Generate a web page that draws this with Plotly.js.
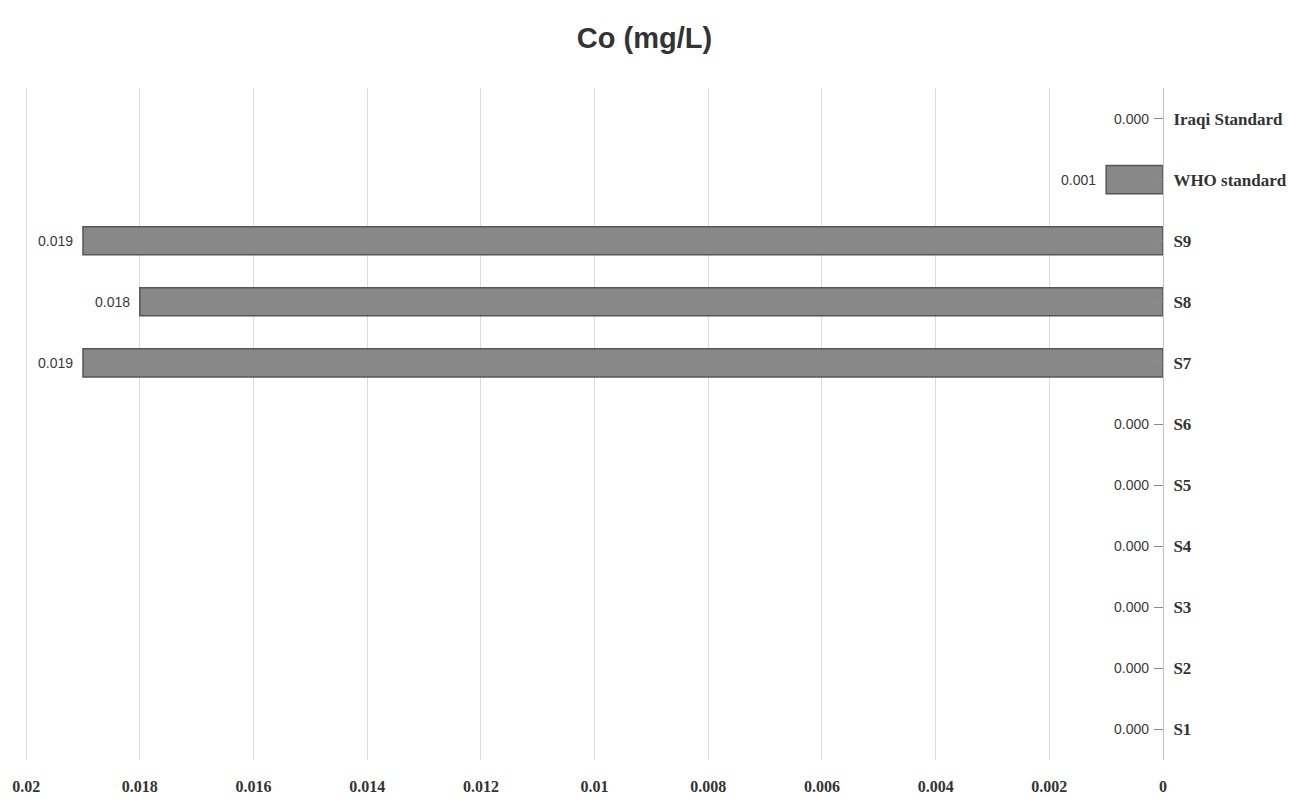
<!DOCTYPE html>
<html>
<head>
<meta charset="utf-8">
<script src="https://cdn.plot.ly/plotly-3.0.1.min.js"></script>
<style>html,body{margin:0;padding:0;background:#fff;}#chart{width:1289px;height:800px;}</style>
</head>
<body>
<div id="chart"></div>
<script>
// Data (bottom to top)
const categories = ["S1", "S2", "S3", "S4", "S5", "S6", "S7", "S8", "S9", "WHO standard", "Iraqi Standard"];
const values = [0.000, 0.000, 0.000, 0.000, 0.000, 0.000, 0.019, 0.018, 0.019, 0.001, 0.000];
const xTickVals = [0, 0.002, 0.004, 0.006, 0.008, 0.01, 0.012, 0.014, 0.016, 0.018, 0.02];
const xTickText = ["0", "0.002", "0.004", "0.006", "0.008", "0.01", "0.012", "0.014", "0.016", "0.018", "0.02"];
const chartTitle = "Co (mg/L)";

const trace = {
  type: "bar",
  orientation: "h",
  x: values,
  y: categories,
  width: 0.46,
  marker: {
    color: "#888888",
    line: { color: "#555555", width: values.map(v => v === 0 ? 0 : 1.5) }
  },
  hoverinfo: "x+y"
};

const annotations = categories.map((c, i) => ({
  x: values[i], y: c, xref: "x", yref: "y",
  text: values[i].toFixed(3),
  showarrow: false, xanchor: "right", yanchor: "middle",
  xshift: values[i] === 0 ? -12 : -8,
  font: { family: "Liberation Sans, Arial, sans-serif", size: 14, color: "#3a3a3a" }
}));

const layout = {
  width: 1289, height: 800,
  paper_bgcolor: "#fff", plot_bgcolor: "#fff",
  margin: { l: 25, r: 126, t: 88, b: 40 },
  title: {
    text: "<b>" + chartTitle + "</b>",
    x: 0.5, xanchor: "center", y: 0.953, yanchor: "middle",
    font: { family: "Liberation Sans Narrow, Arial Narrow, Liberation Sans, sans-serif", size: 29, color: "#333" }
  },
  xaxis: {
    range: [0.02002, 0],
    tickvals: xTickVals, ticktext: xTickText,
    showgrid: true, gridcolor: "#dcdcdc", gridwidth: 1,
    zeroline: false, showline: false,
    ticks: "outside", ticklen: 12, tickcolor: "rgba(0,0,0,0)",
    tickfont: { family: "Liberation Serif, Times New Roman, serif", size: 16, color: "#333", weight: "bold" }
  },
  yaxis: {
    side: "right",
    categoryorder: "array", categoryarray: categories,
    range: [-0.5, categories.length - 0.5],
    showgrid: false, zeroline: false,
    showline: true, linecolor: "#c4c4c4", linewidth: 1,
    ticks: "inside", ticklen: 9, tickcolor: "#8a8a8a", tickwidth: 1,
    ticklabelstandoff: 6,
    tickfont: { family: "Liberation Serif, Times New Roman, serif", size: 17, color: "#333", weight: "bold" }
  },
  showlegend: false,
  annotations: annotations
};

Plotly.newPlot("chart", [trace], layout, { displayModeBar: false, staticPlot: true });
</script>
</body>
</html>
